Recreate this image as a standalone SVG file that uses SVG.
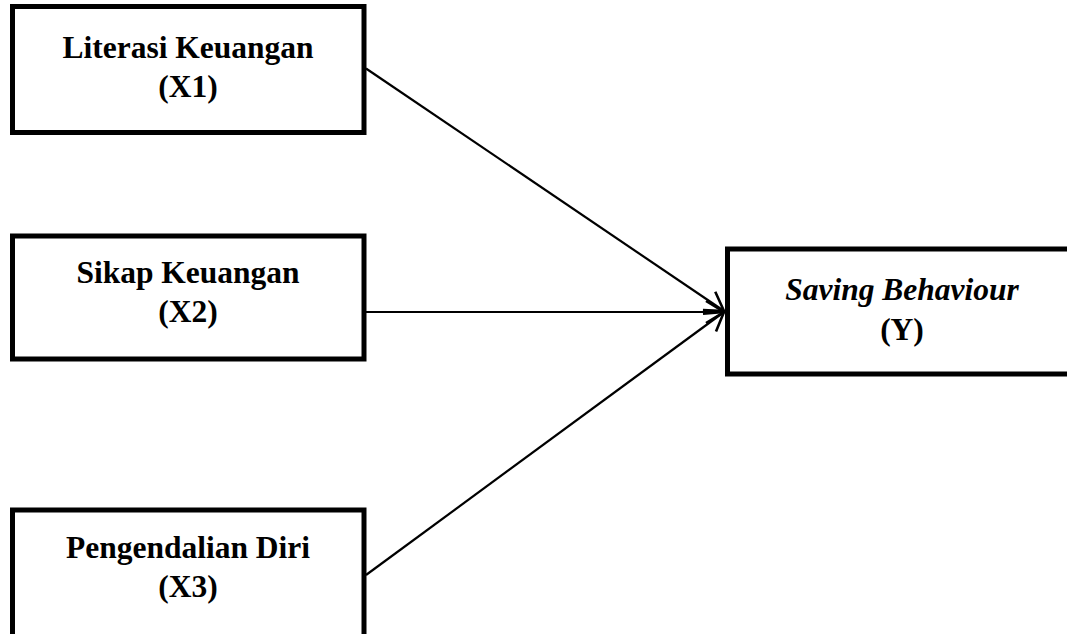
<svg xmlns="http://www.w3.org/2000/svg" width="1067" height="634" viewBox="0 0 1067 634">
<style>
.box{fill:#fff;stroke:#000;stroke-width:5}
.t{font-family:"Liberation Serif","Times New Roman",serif;font-size:31.5px;font-weight:bold;text-anchor:middle;fill:#000}
.i{font-style:italic}
.c{fill:none;stroke:#000;stroke-width:2.2}
</style>
<defs>
<marker id="ah" markerUnits="userSpaceOnUse" markerWidth="30" markerHeight="30" refX="20" refY="15" orient="auto">
<path d="M2,4 L20,15 L2,26" fill="none" stroke="#000" stroke-width="2.6"/>
</marker>
</defs>
<rect width="1067" height="634" fill="#fff"/>
<g id="connectors">
<line class="c" x1="366" y1="68.5" x2="724" y2="311" marker-end="url(#ah)"/>
<line class="c" x1="366" y1="312" x2="724" y2="312" marker-end="url(#ah)"/>
<line class="c" x1="366" y1="575" x2="724" y2="312" marker-end="url(#ah)"/>
</g>
<g id="x1">
<rect class="box" x="12.5" y="6.5" width="351.5" height="126"/>
<text class="t" x="188" y="58">Literasi Keuangan</text>
<text class="t" x="188" y="97">(X1)</text>
</g>
<g id="x2">
<rect class="box" x="12.5" y="236" width="351.5" height="123"/>
<text class="t" x="188" y="283">Sikap Keuangan</text>
<text class="t" x="188" y="322">(X2)</text>
</g>
<g id="x3">
<rect class="box" x="12.5" y="510" width="351.5" height="140"/>
<text class="t" x="188" y="558">Pengendalian Diri</text>
<text class="t" x="188" y="597">(X3)</text>
</g>
<g id="y">
<rect class="box" x="727.5" y="249" width="360" height="125"/>
<text class="t i" x="902" y="300">Saving Behaviour</text>
<text class="t" x="902" y="340">(Y)</text>
</g>
</svg>
